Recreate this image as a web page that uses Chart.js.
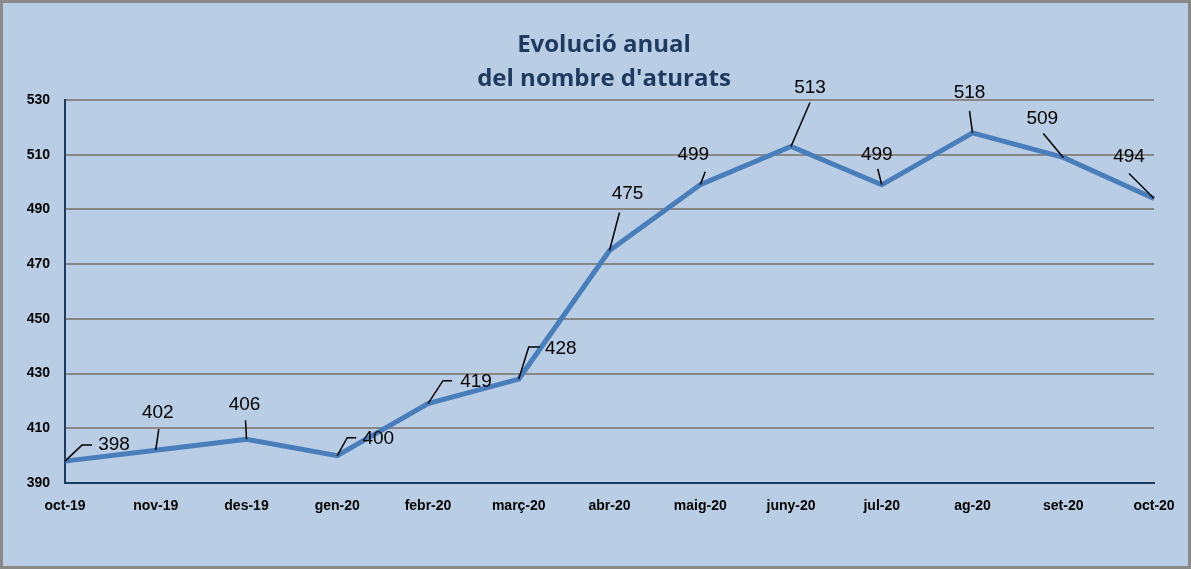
<!DOCTYPE html>
<html>
<head>
<meta charset="utf-8">
<title>Evolució anual del nombre d'aturats</title>
<script src="https://cdn.jsdelivr.net/npm/chart.js"></script>
<style>
  html, body { margin: 0; padding: 0; background: #b9cde5; }
  #wrap { width: 1191px; height: 569px; }
</style>
</head>
<body>
<div id="wrap"><canvas id="chart" width="1191" height="569"></canvas></div>
<script>
// data
const months = ["oct-19", "nov-19", "des-19", "gen-20", "febr-20", "març-20", "abr-20",
  "maig-20", "juny-20", "jul-20", "ag-20", "set-20", "oct-20"];
const aturats = [398, 402, 406, 400, 419, 428, 475, 499, 513, 499, 518, 509, 494];
const yTicks = [390, 410, 430, 450, 470, 490, 510, 530];
const titleLines = ["Evolució anual", "del nombre d'aturats"];

// where each data label sits relative to its point (leader end, optional elbow, text centre)
const labelPos = [
  { lead: [17, -16], elbow: 10, text: [49, -16] },
  { lead: [3, -21], text: [2, -37] },
  { lead: [-1, -19], text: [-2, -34] },
  { lead: [10, -18], elbow: 9, text: [41, -17] },
  { lead: [15, -23], elbow: 9, text: [48, -22] },
  { lead: [10, -32], elbow: 11, text: [42, -30] },
  { lead: [10, -38], text: [18, -57] },
  { lead: [5, -13], text: [-7, -30] },
  { lead: [19, -44], text: [19, -59] },
  { lead: [-4, -16], text: [-5, -30] },
  { lead: [-3, -22], text: [-3, -40] },
  { lead: [-20, -24], text: [-21, -39] },
  { lead: [-25, -25], text: [-25, -42] }
];

// background, frame and title
const frame = {
  id: "frame",
  beforeDraw(chart) {
    const c = chart.ctx;
    c.save();
    c.fillStyle = "#b9cde5";
    c.fillRect(0, 0, chart.width, chart.height);
    c.strokeStyle = "#898989";
    c.lineWidth = 3;
    c.strokeRect(1.5, 1.5, chart.width - 3, chart.height - 3);
    c.fillStyle = "#1f3a5f";
    c.font = "bold 24px 'Open Sans'";
    c.textAlign = "center";
    c.textBaseline = "middle";
    c.fillText(titleLines[0], 604, 45);
    c.fillText(titleLines[1], 604, 79);
    c.restore();
  }
};

// data labels with leader lines
const labels = {
  id: "labels",
  afterDatasetsDraw(chart) {
    const c = chart.ctx;
    const pts = chart.getDatasetMeta(0).data;
    c.save();
    c.strokeStyle = "#000";
    c.lineWidth = 1.5;
    c.fillStyle = "#000";
    c.font = "19px 'Liberation Sans'";
    c.textAlign = "center";
    c.textBaseline = "middle";
    pts.forEach((p, i) => {
      const lp = labelPos[i];
      c.beginPath();
      c.moveTo(p.x, p.y);
      c.lineTo(p.x + lp.lead[0], p.y + lp.lead[1]);
      if (lp.elbow) c.lineTo(p.x + lp.lead[0] + lp.elbow, p.y + lp.lead[1]);
      c.stroke();
      c.fillText(String(aturats[i]), p.x + lp.text[0], p.y + lp.text[1]);
    });
    c.restore();
  }
};

new Chart(document.getElementById("chart"), {
  type: "line",
  data: {
    labels: months,
    datasets: [{
      data: aturats,
      borderColor: "#4a7ebb",
      borderWidth: 5,
      pointRadius: 0,
      tension: 0,
      borderJoinStyle: "miter"
    }]
  },
  options: {
    responsive: false,
    animation: false,
    layout: { padding: { top: 100, right: 37, left: 0, bottom: 0 } },
    plugins: { legend: { display: false }, tooltip: { enabled: false } },
    scales: {
      x: {
        offset: false,
        grid: { display: false, drawTicks: false },
        border: { color: "#1f3a5f", width: 2 },
        ticks: {
          color: "#000",
          font: { family: "'Liberation Sans'", size: 14, weight: "bold" },
          padding: 15,
          maxRotation: 0,
          autoSkip: false
        },
        afterFit(s) { s.height = 86; }
      },
      y: {
        min: 390,
        max: 530,
        afterBuildTicks(s) { s.ticks = yTicks.map(v => ({ value: v })); },
        grid: { color: "#878787", lineWidth: 2, drawTicks: false },
        border: { color: "#1f3a5f", width: 2 },
        ticks: {
          color: "#000",
          font: { family: "'Liberation Sans'", size: 14, weight: "bold" },
          padding: 15
        },
        afterFit(s) { s.width = 65; }
      }
    }
  },
  plugins: [frame, labels]
});
</script>
</body>
</html>
